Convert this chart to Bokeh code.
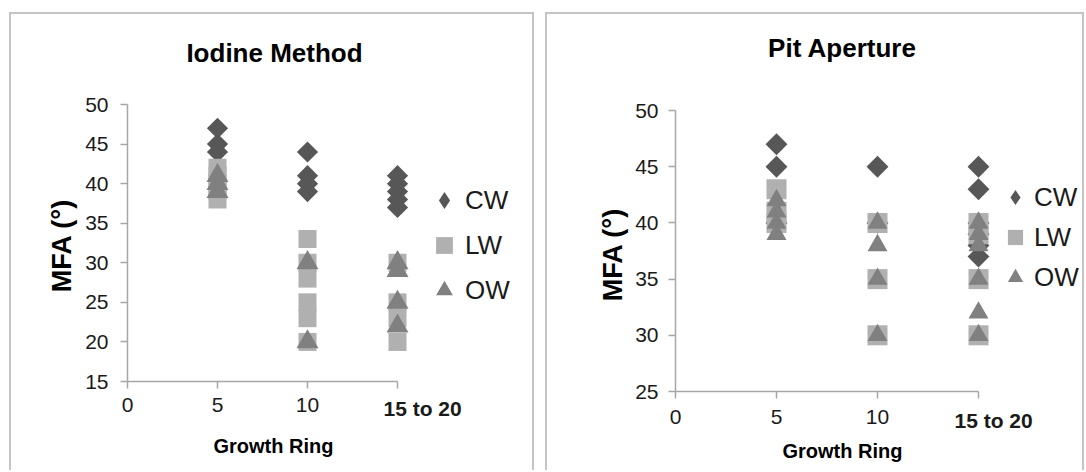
import math
from bokeh.plotting import figure
from bokeh.models import FixedTicker, Legend, LegendItem, Range1d, Label, LinearAxis
from bokeh.layouts import row
from bokeh.embed import file_html
from bokeh.resources import INLINE

FONT = "Liberation Sans"

# ---------------- data ----------------
X_TICKS = [0, 5, 10, 15]
X_TICK_LABELS = {0: "0", 5: "5", 10: "10", 15: "15 to 20"}
SERIES = ["CW", "LW", "OW"]
COLORS = {"CW": "#575757", "LW": "#b0b0b0", "OW": "#808080"}

# Iodine Method
IOD_Y_TICKS = [15, 20, 25, 30, 35, 40, 45, 50]
IOD_CW_RING = [5, 5, 5, 10, 10, 10, 10, 15, 15, 15, 15, 15]
IOD_CW_MFA = [47, 45, 44, 44, 41, 40, 39, 41, 40, 39, 38, 37]
IOD_LW_RING = [5, 5, 5, 5, 5, 10, 10, 10, 10, 10, 10, 15, 15, 15, 15]
IOD_LW_MFA = [42, 41, 40, 39, 38, 33, 30, 28, 25, 23, 20, 30, 25, 23, 20]
IOD_OW_RING = [5, 5, 5, 10, 10, 15, 15, 15, 15]
IOD_OW_MFA = [41, 40, 39, 30, 20, 30, 29, 25, 22]

# Pit Aperture
PIT_Y_TICKS = [25, 30, 35, 40, 45, 50]
PIT_CW_RING = [5, 5, 5, 10, 10, 15, 15, 15, 15, 15, 15]
PIT_CW_MFA = [47, 45, 40, 45, 40, 45, 43, 40, 39, 38, 37]
PIT_LW_RING = [5, 5, 5, 10, 10, 10, 15, 15, 15, 15]
PIT_LW_MFA = [43, 41, 40, 40, 35, 30, 40, 39, 35, 30]
PIT_OW_RING = [5, 5, 5, 5, 10, 10, 10, 10, 15, 15, 15, 15, 15, 15]
PIT_OW_MFA = [42, 41, 40, 39, 40, 38, 35, 30, 40, 39, 38, 35, 32, 30]


def box_shadow(left, top, right, color="#c4c4c4", lw=2):
    # light grey frame round each chart (left, top and right sides)
    whites = [f"inset {left}px 0 0 0 #ffffff", f"inset 0 {top}px 0 0 #ffffff",
              f"inset -{right}px 0 0 0 #ffffff"]
    greys = [f"inset {left + lw}px 0 0 0 {color}", f"inset 0 {top + lw}px 0 0 {color}",
             f"inset -{right + lw}px 0 0 0 {color}"]
    return ", ".join(whites + greys)


def make_panel(title, ring, mfa, y_ticks, c):
    # c holds the pixel layout (figure-relative) of this chart
    W, H = c["w"], c["h"]
    ppx = c["ppx"]                       # px per ring unit
    ppy = c["ppy"]                       # px per degree
    x0, yb = c["x0px"], c["ybpx"]        # pixel of ring 0 / of lowest y tick
    ymin = y_ticks[0]

    def dx(px):
        return (px - x0) / ppx

    def dy(py):
        return ymin + (yb - py) / ppy

    p = figure(width=W, height=H,
               x_range=Range1d(dx(0), dx(W)), y_range=Range1d(dy(H), dy(0)),
               output_backend="svg", toolbar_location=None,
               x_axis_location=None, y_axis_location=None,
               min_border_left=0, min_border_right=0,
               min_border_top=0, min_border_bottom=0,
               background_fill_color=None, border_fill_color=None,
               styles={"box-shadow": box_shadow(*c["box"])})
    p.outline_line_color = None
    p.grid.visible = False

    xa = LinearAxis(fixed_location=ymin, bounds=(0, 15),
                    ticker=FixedTicker(ticks=X_TICKS),
                    major_label_overrides={k: ("" if k == 15 else v)
                                           for k, v in X_TICK_LABELS.items()})
    ya = LinearAxis(fixed_location=0, bounds=(y_ticks[0], y_ticks[-1]),
                    ticker=FixedTicker(ticks=y_ticks))
    for ax in (xa, ya):
        ax.axis_line_color = "#a6a6a6"
        ax.axis_line_width = 1.5
        ax.major_tick_line_color = "#a6a6a6"
        ax.major_tick_line_width = 1.5
        ax.major_tick_in = 0
        ax.major_tick_out = 7
        ax.minor_tick_line_color = None
        ax.major_label_text_font = FONT
        ax.major_label_text_font_size = "21px"
        ax.major_label_text_color = "#1a1a1a"
    xa.major_label_standoff = c["xls"]
    ya.major_label_standoff = c["yls"]
    p.add_layout(xa, "below")
    p.add_layout(ya, "left")

    # last category label ("15 to 20") placed like in the original
    p.add_layout(Label(x=dx(c["last_tick_left"]), y=dy(c["tick_cy"]),
                       text=X_TICK_LABELS[15], text_align="left",
                       text_baseline="middle", text_font=FONT,
                       text_font_size="21px", text_font_style="bold",
                       text_color="#1a1a1a"))

    def text(px, py, s, size, angle=0.0):
        p.add_layout(Label(x=dx(px), y=dy(py), text=s, angle=angle,
                           text_align="center", text_baseline="middle",
                           text_font=FONT, text_font_size=size,
                           text_font_style="bold", text_color="#000000"))

    text(*c["title_c"], title, "26px")
    text(*c["xlab_c"], "Growth Ring", "20px")
    text(*c["ylab_c"], "MFA (°)", "27px", angle=math.pi / 2)

    # legend-only diamond (hidden under the first CW point)
    leg_cw = p.scatter(ring["CW"][:1], mfa["CW"][:1], marker="diamond",
                       size=12, fill_color=COLORS["CW"], line_color=None)
    rs = {}
    rs["CW"] = p.scatter(ring["CW"], mfa["CW"], marker="square", angle=math.pi / 4,
                         size=c["s_cw"], fill_color=COLORS["CW"], line_color=None)
    rs["LW"] = p.scatter(ring["LW"], mfa["LW"], marker="square",
                         size=c["s_lw"], fill_color=COLORS["LW"], line_color=None)
    rs["OW"] = p.scatter(ring["OW"], mfa["OW"], marker="triangle",
                         size=c["s_ow"], fill_color=COLORS["OW"], line_color=None)

    g = c["leg_glyph"]
    leg = Legend(items=[LegendItem(label="CW", renderers=[leg_cw]),
                        LegendItem(label="LW", renderers=[rs["LW"]]),
                        LegendItem(label="OW", renderers=[rs["OW"]])],
                 location=c["legloc"], glyph_width=g, glyph_height=g,
                 spacing=c["legsp"], padding=0, margin=0, label_standoff=0,
                 label_text_font=FONT, label_text_font_size="26px",
                 label_text_color="#1a1a1a",
                 border_line_color=None, background_fill_alpha=0)
    p.add_layout(leg)
    return p


left_cfg = dict(w=538, h=470, ppx=18.0, ppy=277 / 35, x0px=127, ybpx=381,
                xls=9, yls=12,
                title_c=(274, 52), xlab_c=(273, 445), ylab_c=(61, 245),
                last_tick_left=383, tick_cy=408,
                s_cw=15, s_lw=18, s_ow=22,
                leg_glyph=42, legloc=(423, 159), legsp=3,
                box=(9, 12, 4))
right_cfg = dict(w=546, h=470, ppx=20.2, ppy=281 / 25, x0px=137, ybpx=391,
                 xls=11, yls=10,
                 title_c=(304, 47), xlab_c=(304, 450), ylab_c=(74, 254),
                 last_tick_left=416, tick_cy=420,
                 s_cw=15.5, s_lw=20, s_ow=20,
                 leg_glyph=38, legloc=(458, 174), legsp=2,
                 box=(7, 12, 0))

p1 = make_panel("Iodine Method",
                {"CW": IOD_CW_RING, "LW": IOD_LW_RING, "OW": IOD_OW_RING},
                {"CW": IOD_CW_MFA, "LW": IOD_LW_MFA, "OW": IOD_OW_MFA},
                IOD_Y_TICKS, left_cfg)
p2 = make_panel("Pit Aperture",
                {"CW": PIT_CW_RING, "LW": PIT_LW_RING, "OW": PIT_OW_RING},
                {"CW": PIT_CW_MFA, "LW": PIT_LW_MFA, "OW": PIT_OW_MFA},
                PIT_Y_TICKS, right_cfg)

layout = row(p1, p2)
open("out.html", "w").write(file_html(layout, INLINE))
